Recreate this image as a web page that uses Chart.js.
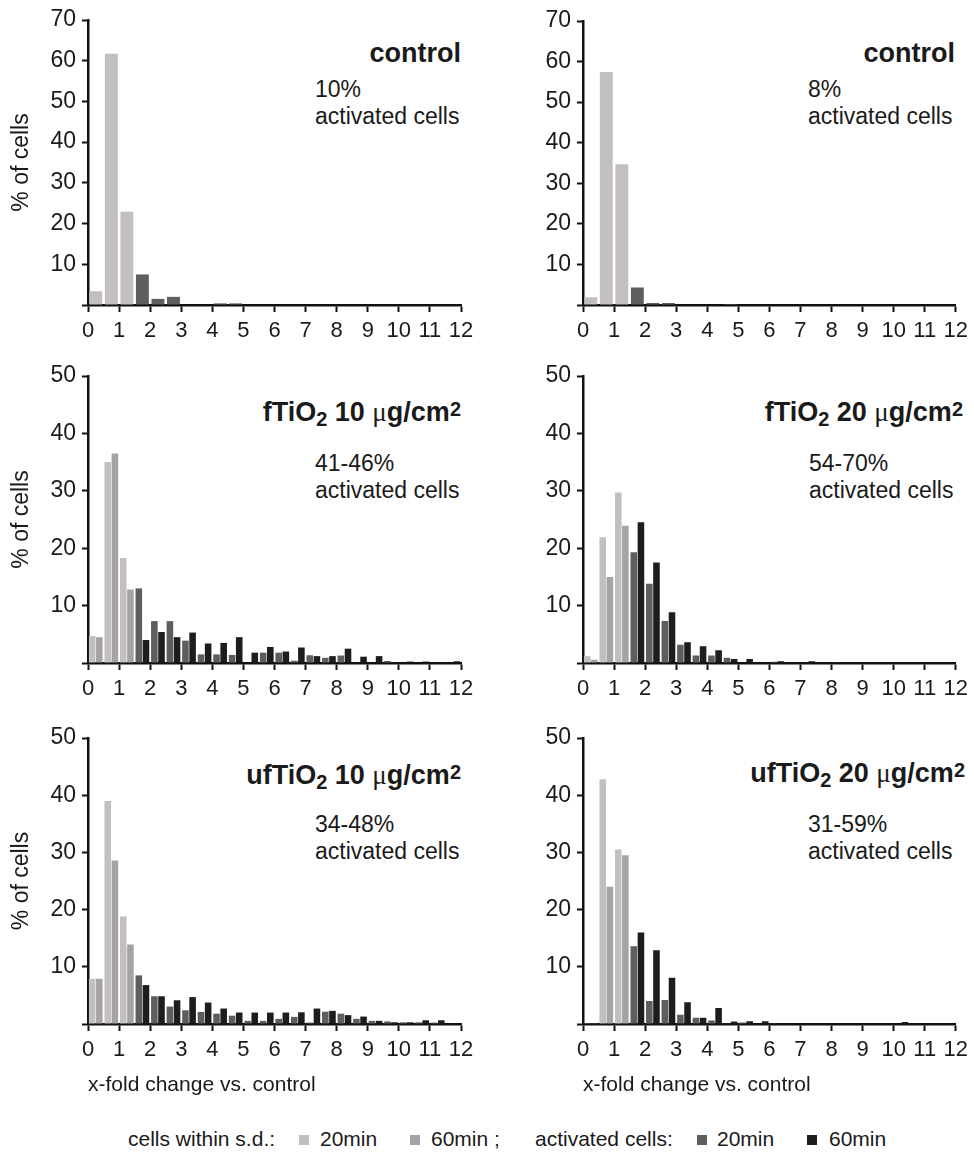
<!DOCTYPE html>
<html>
<head>
<meta charset="utf-8">
<script src="https://cdn.jsdelivr.net/npm/chart.js@4.4.1/dist/chart.umd.min.js"></script>
<style>
    body {
        margin: 0;
        width: 974px;
        height: 1154px;
        position: relative;
        overflow: hidden;
        background: #fff;
        color: #1a1a1a;
        font-family: "Liberation Sans", Arial, sans-serif;
    }
    canvas { position: absolute; }
    .title {
        position: absolute;
        font-size: 27px;
        font-weight: bold;
        line-height: 1;
        white-space: nowrap;
    }
    .title sub, .title sup { font-size: 20px; line-height: 0; }
    .title sub { vertical-align: -5px; }
    .title sup { vertical-align: 5px; }
    .title .mu { font-family: "Liberation Serif", serif; font-weight: normal; }
    .note {
        position: absolute;
        font-size: 23px;
        line-height: 27px;
        white-space: nowrap;
    }
    .leg {
        position: absolute;
        top: 1128px;
        font-size: 21px;
        line-height: 1;
        white-space: nowrap;
    }
    .sq {
        position: absolute;
        top: 1135px;
        width: 10px;
        height: 10px;
    }
</style>
</head>
<body>

<div class="title" style="top:40px; right:513px">control</div>
<div class="note" style="left:315px; top:76px">10%<br>activated cells</div>

<div class="title" style="top:40px; right:19px">control</div>
<div class="note" style="left:808px; top:76px">8%<br>activated cells</div>

<div class="title" style="top:399px; right:513px">fTiO<sub>2</sub> 10 <span class="mu">μ</span>g/cm<sup>2</sup></div>
<div class="note" style="left:315px; top:450px">41-46%<br>activated cells</div>

<div class="title" style="top:399px; right:11px">fTiO<sub>2</sub> 20 <span class="mu">μ</span>g/cm<sup>2</sup></div>
<div class="note" style="left:809px; top:450px">54-70%<br>activated cells</div>

<div class="title" style="top:762px; right:513px">ufTiO<sub>2</sub> 10 <span class="mu">μ</span>g/cm<sup>2</sup></div>
<div class="note" style="left:315px; top:811px">34-48%<br>activated cells</div>

<div class="title" style="top:760px; right:9px">ufTiO<sub>2</sub> 20 <span class="mu">μ</span>g/cm<sup>2</sup></div>
<div class="note" style="left:808px; top:811px">31-59%<br>activated cells</div>

<div class="leg" style="left:128px">cells within s.d.:</div>
<div class="sq" style="left:299px; background:#c3bfc1"></div>
<div class="leg" style="left:320px">20min</div>
<div class="sq" style="left:410px; background:#a6a3a4"></div>
<div class="leg" style="left:431px">60min ;</div>
<div class="leg" style="left:535px">activated cells:</div>
<div class="sq" style="left:697px; background:#5e5e5e"></div>
<div class="leg" style="left:717px">20min</div>
<div class="sq" style="left:807px; background:#1d1d1d"></div>
<div class="leg" style="left:829px">60min</div>

<script>
// bins of 0.5 x-fold change
const bins = [
    "0-0.5", "0.5-1", "1-1.5", "1.5-2", "2-2.5", "2.5-3", "3-3.5", "3.5-4",
    "4-4.5", "4.5-5", "5-5.5", "5.5-6", "6-6.5", "6.5-7", "7-7.5", "7.5-8",
    "8-8.5", "8.5-9", "9-9.5", "9.5-10", "10-10.5", "10.5-11", "11-11.5", "11.5-12"
];

// control (one bar per bin)
const controlLeft  = [3.4, 61.7, 22.9, 7.5, 1.5, 2.0, 0, 0, 0.4, 0.4, 0, 0, 0, 0, 0, 0, 0, 0, 0, 0, 0, 0, 0, 0];
const controlRight = [1.9, 57.4, 34.7, 4.3, 0.5, 0.5, 0, 0, 0, 0.25, 0, 0, 0, 0, 0, 0, 0, 0, 0, 0, 0, 0, 0, 0];

// fTiO2 10 ug/cm2
const fTiO2_10_20min = [4.7, 35.0, 18.3, 13.0, 7.3, 7.3, 3.9, 1.5, 1.5, 1.4, 0, 1.8, 1.8, 0.4, 1.35, 0.9, 1.3, 0, 0, 0.35, 0, 0, 0, 0];
const fTiO2_10_60min = [4.5, 36.5, 12.8, 4.0, 5.4, 4.5, 5.3, 3.4, 3.5, 4.5, 1.8, 2.8, 2.0, 2.7, 1.2, 1.2, 2.5, 1.1, 1.2, 0, 0.25, 0.25, 0, 0.3];

// fTiO2 20 ug/cm2
const fTiO2_20_20min = [1.2, 21.9, 29.7, 19.3, 13.8, 7.3, 3.2, 1.3, 1.3, 0.9, 0, 0, 0.2, 0, 0, 0, 0.15, 0, 0, 0, 0, 0, 0, 0];
const fTiO2_20_60min = [0.55, 15.0, 23.9, 24.5, 17.5, 8.85, 3.6, 2.9, 2.2, 0.7, 0.7, 0, 0.3, 0, 0.3, 0, 0, 0, 0, 0, 0, 0, 0, 0];

// ufTiO2 10 ug/cm2
const ufTiO2_10_20min = [7.9, 39.0, 18.8, 8.5, 4.85, 3.05, 2.4, 2.1, 1.8, 1.45, 0.55, 0.55, 0.9, 1.25, 0.25, 2.15, 1.8, 0.9, 0.55, 0.45, 0.3, 0.3, 0.25, 0];
const ufTiO2_10_60min = [7.9, 28.6, 13.9, 6.8, 4.85, 4.15, 4.7, 3.75, 2.7, 2.0, 2.0, 2.0, 2.0, 2.05, 2.7, 2.3, 1.55, 1.3, 0.55, 0.3, 0.3, 0.65, 0.65, 0];

// ufTiO2 20 ug/cm2
const ufTiO2_20_20min = [0.15, 42.8, 30.5, 13.6, 4.0, 4.2, 1.6, 1.1, 0.6, 0.15, 0.25, 0, 0.15, 0, 0.1, 0, 0, 0, 0, 0, 0, 0, 0, 0];
const ufTiO2_20_60min = [0.15, 24.0, 29.5, 16.0, 12.9, 8.1, 3.8, 1.1, 2.8, 0.45, 0.5, 0.5, 0, 0, 0, 0, 0, 0, 0, 0, 0.35, 0, 0, 0];

const xTicksMax = 12;

// colours: first three bins = cells within s.d., rest = activated cells
const sdColors  = ["#c3bfc1", "#a6a3a4"];
const actColors = ["#5e5e5e", "#1d1d1d"];
const sdBins = 3;

const FONT = '"Liberation Sans", Arial, sans-serif';
const INK = "#1a1a1a";

Chart.defaults.font.family = FONT;
Chart.defaults.color = INK;

const panels = [
    { series: [controlLeft], yMax: 70, left: 0, top: 0, h: 345, padTop: 20, padRight: 26, yW: 88, xH: 40, yTitle: true },
    { series: [controlRight], yMax: 70, left: 487, top: 0, h: 345, padTop: 21, padRight: 18, yW: 96, xH: 40 },
    { series: [fTiO2_10_20min, fTiO2_10_60min], yMax: 50, left: 0, top: 345, h: 358, padTop: 31, padRight: 26, yW: 88, xH: 40, yTitle: true },
    { series: [fTiO2_20_20min, fTiO2_20_60min], yMax: 50, left: 487, top: 345, h: 358, padTop: 31, padRight: 18, yW: 96, xH: 40 },
    { series: [ufTiO2_10_20min, ufTiO2_10_60min], yMax: 50, left: 0, top: 705, h: 397, padTop: 33, padRight: 26, yW: 88, xH: 78, yTitle: true, xTitle: true },
    { series: [ufTiO2_20_20min, ufTiO2_20_60min], yMax: 50, left: 487, top: 705, h: 397, padTop: 33, padRight: 18, yW: 96, xH: 78, xTitle: true },
];

function makePanel (p) {
    const cv = document.createElement("canvas");
    cv.width = 487;
    cv.height = p.h;
    cv.style.left = p.left + "px";
    cv.style.top = p.top + "px";
    document.body.appendChild(cv);

    const single = p.series.length === 1;
    const datasets = p.series.map((vals, k) => ({
        label: single ? "all" : (k === 0 ? "20min" : "60min"),
        data: vals,
        xAxisID: "x",
        yAxisID: "y",
        backgroundColor: bins.map((_, i) => i < sdBins ? sdColors[k] : actColors[k]),
        borderWidth: 0,
        categoryPercentage: single ? 0.83 : 0.92,
        barPercentage: single ? 1 : 0.92,
    }));

    new Chart(cv, {
        type: "bar",
        data: { labels: bins, datasets },
        options: {
            responsive: false,
            animation: false,
            layout: { padding: { top: p.padTop, right: p.padRight, left: 0, bottom: 0 } },
            plugins: { legend: { display: false }, tooltip: { enabled: false } },
            scales: {
                x: { type: "category", display: false, offset: true },
                // tick axis 0..12 lying over the bins
                xt: {
                    type: "linear",
                    axis: "x",
                    position: "bottom",
                    min: 0,
                    max: xTicksMax,
                    offset: false,
                    afterFit: s => { s.height = p.xH; },
                    ticks: { stepSize: 1, autoSkip: false, maxRotation: 0, padding: 6, color: INK, font: { size: 22 } },
                    grid: { offset: false, drawOnChartArea: false, tickLength: 7, tickWidth: 2, color: "#111" },
                    border: { color: "#111", width: 2.5 },
                    title: {
                        display: !!p.xTitle,
                        text: "x-fold change vs. control",
                        align: "start",
                        color: INK,
                        font: { size: 21 },
                        padding: { top: 0, bottom: 4 },
                    },
                },
                y: {
                    min: 0,
                    max: p.yMax,
                    afterFit: s => { s.width = p.yW; },
                    ticks: {
                        stepSize: 10,
                        padding: 6,
                        color: INK,
                        font: { size: 23 },
                        callback: v => v === 0 ? "" : v,
                    },
                    grid: { drawOnChartArea: false, tickLength: 6, tickWidth: 2, color: "#111" },
                    border: { color: "#111", width: 2.5 },
                    title: {
                        display: !!p.yTitle,
                        text: "% of cells",
                        color: INK,
                        font: { size: 23 },
                        padding: { top: 8, bottom: 0 },
                    },
                },
            },
        },
    });
}

panels.forEach(makePanel);
</script>
</body>
</html>
